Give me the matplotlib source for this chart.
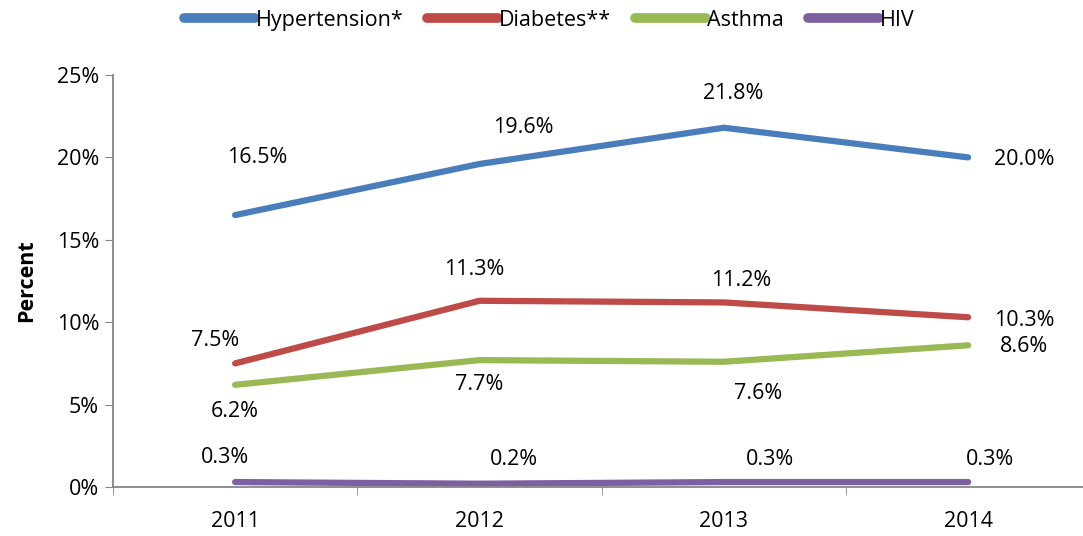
import matplotlib.pyplot as plt
import numpy as np

years = ["2011", "2012", "2013", "2014"]
hypertension = [16.5, 19.6, 21.8, 20.0]
diabetes = [7.5, 11.3, 11.2, 10.3]
asthma = [6.2, 7.7, 7.6, 8.6]
hiv = [0.3, 0.2, 0.3, 0.3]

series = [
    ("Hypertension*", hypertension, "#4A7EBB"),
    ("Diabetes**", diabetes, "#BE4B48"),
    ("Asthma", asthma, "#98B954"),
    ("HIV", hiv, "#7D60A0"),
]

# label offsets (dx in category units, dy in percent) per series/point
offsets = {
    "Hypertension*": [(0.09, 3.5), (0.18, 2.2), (0.04, 2.1), (0.23, -0.1)],
    "Diabetes**": [(-0.08, 1.4), (-0.02, 1.9), (0.07, 1.3), (0.23, -0.2)],
    "Asthma": [(0.0, -1.6), (0.0, -1.45), (0.14, -1.95), (0.23, -0.1)],
    "HIV": [(-0.04, 1.5), (0.14, 1.45), (0.19, 1.35), (0.09, 1.35)],
}

fs = 15.5
plt.rcParams['font.family'] = ['Open Sans', 'DejaVu Sans']

fig = plt.figure(figsize=(10.83, 5.36), dpi=100)
ax = fig.add_axes([0.1043, 0.0914, 0.8957, 0.7687])

x = np.arange(len(years))
for name, vals, color in series:
    ax.plot(x, vals, color=color, lw=4.5, solid_capstyle='round', label=name)
    for xi, v, (dx, dy) in zip(x, vals, offsets[name]):
        ax.text(xi + dx, v + dy, "{:.1f}%".format(v), ha='center', va='center', fontsize=fs)

ax.set_xlim(-0.5, 3.47)
ax.set_ylim(0, 25)
ax.set_yticks(np.arange(0, 26, 5))
ax.set_yticklabels(["{}%".format(v) for v in range(0, 26, 5)], fontsize=fs)
ax.set_xticks(x)
ax.set_xticklabels(years, fontsize=fs)
ax.set_xticks(np.arange(-0.5, 3.5, 1.0), minor=True)
ax.tick_params(axis='x', which='major', length=0, pad=17)
ax.tick_params(axis='x', which='minor', length=6, color='#868686', direction='out')
ax.tick_params(axis='y', length=6, color='#868686', direction='out', pad=4)
ax.set_ylabel("Percent", fontsize=fs, fontweight='bold', labelpad=14)

for s in ['top', 'right']:
    ax.spines[s].set_visible(False)
for s in ['left', 'bottom']:
    ax.spines[s].set_color('#868686')
    ax.spines[s].set_linewidth(1.3)

handles, labels = ax.get_legend_handles_labels()
leg = fig.legend(handles, labels, loc='center', bbox_to_anchor=(0.507, 0.962), ncol=4,
                 frameon=False, fontsize=fs, handlelength=3.3, handletextpad=0.05,
                 columnspacing=1.1)
for h in leg.get_lines():
    h.set_linewidth(7)

fig.savefig("out.png", dpi=100)
